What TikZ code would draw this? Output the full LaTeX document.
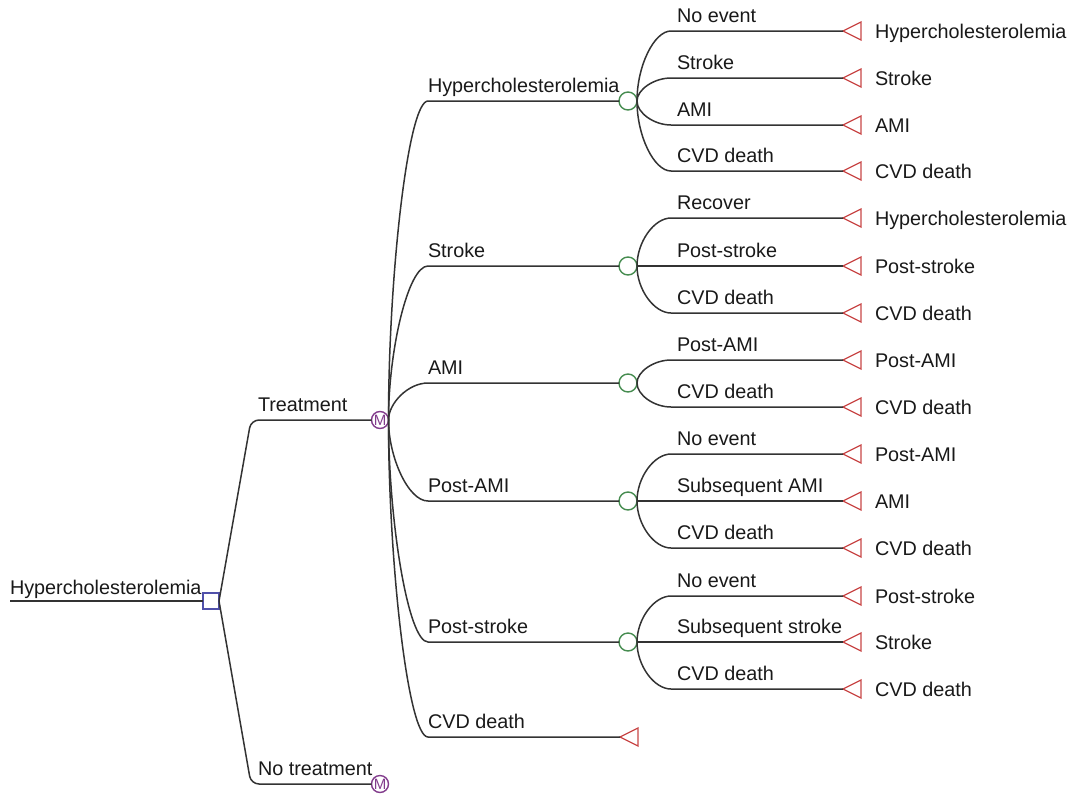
\documentclass[tikz,border=0pt]{standalone}
\usepackage{fontspec}
\setmainfont{Liberation Sans}
\usetikzlibrary{shapes.geometric}
\definecolor{decc}{RGB}{80,80,170}
\definecolor{mkc}{RGB}{130,60,140}
\definecolor{chc}{RGB}{70,140,80}
\definecolor{tmc}{RGB}{200,70,70}
\begin{document}
\begin{tikzpicture}[x=1pt,y=-1pt,
  every node/.style={font=\fontsize{19.8}{22}\selectfont, text=black!90, inner sep=0pt, outer sep=0pt},
  ln/.style={draw=black!80, line width=1.5pt},
  decnode/.style={draw=decc, rectangle, minimum size=16pt, line width=1.4pt},
  markov/.style={draw=mkc, circle, minimum size=17pt, line width=1.4pt, text=mkc, font=\fontsize{15}{15}\selectfont},
  chance/.style={draw=chc, circle, minimum size=18pt, line width=1.4pt},
  term/.style={draw=tmc, isosceles triangle, isosceles triangle stretches, shape border rotate=180, minimum width=18pt, minimum height=18pt, line width=1.3pt, anchor=apex},
  blab/.style={anchor=base west},
]
\useasboundingbox (0,0) rectangle (1070,795);

% root
\coordinate (r0) at (10,601);
\node[decnode] (d) at (211,601) {};
\node[blab] (lr) at (10,594) {Hypercholesterolemia};
\draw[ln] (r0) -- (d.west);

% markov nodes
\node[markov] (m1) at (380,420) {M};
\node[markov] (m2) at (380,784) {M};
\draw[ln, rounded corners=8pt] (d.east) -- (251,420) -- (m1.west);
\draw[ln, rounded corners=8pt] (d.east) -- (251,784) -- (m2.west);
\node[blab] (lt) at (258,411) {Treatment};
\node[blab] (lnt) at (258,775) {No treatment};

% chance nodes
\node[chance] (c1) at (628,101) {};
\node[chance] (c2) at (628,266) {};
\node[chance] (c3) at (628,383) {};
\node[chance] (c4) at (628,501) {};
\node[chance] (c5) at (628,642) {};
\node[term] (t0) at (620,737) {};

\foreach \c/\y/\lab in {c1/101/Hypercholesterolemia, c2/266/Stroke, c3/383/AMI, c4/501/Post-AMI, c5/642/Post-stroke} {
  \draw[ln] (m1.east) .. controls +(0,{0.45*(\y-420)}) and (408,\y) .. (428,\y) -- (\c.west);
  \node[blab] (ml\c) at (428,\y-9) {\lab};
}
\draw[ln] (m1.east) .. controls +(0,{0.45*(737-420)}) and (408,737) .. (428,737) -- (t0.apex);
\node[blab] (mlt0) at (428,728) {CVD death};

% chance branches
\foreach \n/\c/\cy/\y/\lab/\tl in {
  a/c1/101/31/No event/Hypercholesterolemia,
  b/c1/101/78/Stroke/Stroke,
  c/c1/101/125/AMI/AMI,
  d/c1/101/171/CVD death/CVD death,
  e/c2/266/218/Recover/Hypercholesterolemia,
  f/c2/266/266/Post-stroke/Post-stroke,
  g/c2/266/313/CVD death/CVD death,
  h/c3/383/360/Post-AMI/Post-AMI,
  i/c3/383/407/CVD death/CVD death,
  j/c4/501/454/No event/Post-AMI,
  k/c4/501/501/Subsequent AMI/AMI,
  l/c4/501/548/CVD death/CVD death,
  m/c5/642/596/No event/Post-stroke,
  n/c5/642/642/Subsequent stroke/Stroke,
  o/c5/642/689/CVD death/CVD death} {
  \node[term] (t\n) at (843,\y) {};
  \node[blab] (tl\n) at (875,\y+7) {\tl};
  \node[blab] (bl\n) at (677,\y-9) {\lab};
  \draw[ln] (\c.east) .. controls +(0,{0.5*(\y-\cy)}) and (654,\y) .. (671,\y) -- (t\n.apex);
}
\end{tikzpicture}
\end{document}
